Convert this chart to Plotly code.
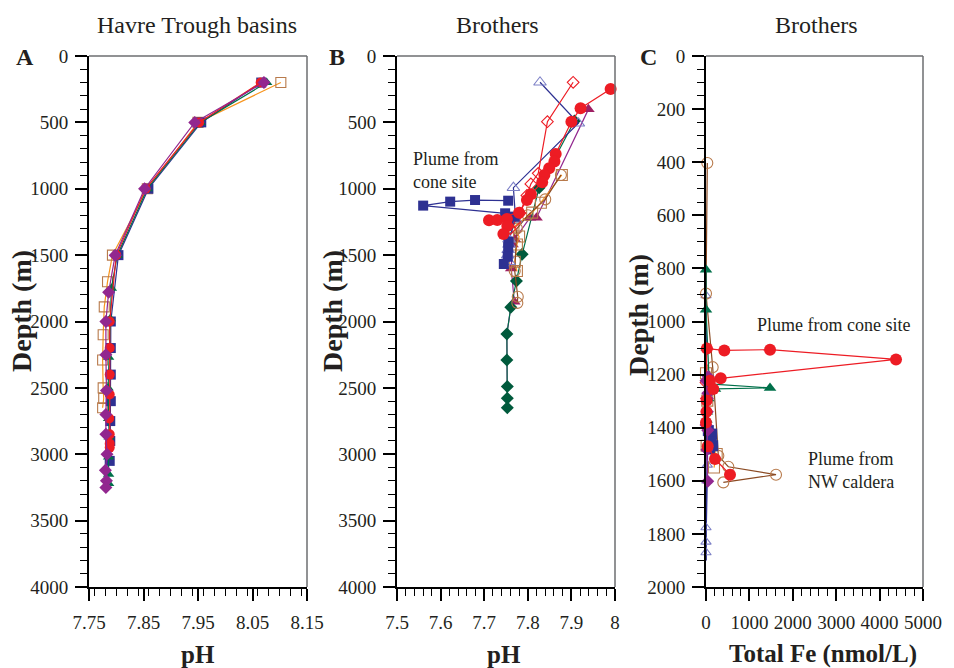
import plotly.graph_objects as go

W, H = 954, 668

# ---------------- Panel A: Havre Trough basins (pH vs depth) ----------------
A_sq_depth = [200, 500, 1000, 1500, 2000, 2200, 2400, 2600, 2750, 2900, 3050]
A_sq_ph = [8.066, 7.956, 7.859, 7.804, 7.790, 7.790, 7.790, 7.790, 7.789, 7.789, 7.788]
A_ci_depth = [200, 500, 1000, 1500, 2000, 2200, 2400, 2550, 2730, 2850, 2920, 2950]
A_ci_ph = [8.065, 7.952, 7.854, 7.800, 7.788, 7.788, 7.788, 7.788, 7.787, 7.788, 7.788, 7.788]
A_tr_depth = [200, 500, 1000, 1500, 1750, 1980, 2270, 2500, 2730, 2870, 3020, 3150, 3220]
A_tr_ph = [8.076, 7.954, 7.857, 7.802, 7.791, 7.789, 7.786, 7.785, 7.786, 7.787, 7.786, 7.786, 7.786]
A_di_depth = [200, 500, 1000, 1500, 1780, 2000, 2250, 2520, 2700, 2850, 3000, 3120, 3200, 3250]
A_di_ph = [8.071, 7.944, 7.852, 7.798, 7.786, 7.781, 7.781, 7.782, 7.781, 7.781, 7.783, 7.780, 7.782, 7.781]
A_os_depth = [200, 500, 1000, 1500, 1700, 1890, 2100, 2290, 2500, 2580, 2650]
A_os_ph = [8.102, 7.950, 7.857, 7.793, 7.784, 7.778, 7.776, 7.775, 7.776, 7.777, 7.775]

# ---------------- Panel B: Brothers (pH vs depth) ----------------
B_sq_depth = [1090, 1085, 1097, 1127, 1185, 1210, 1230, 1400, 1440, 1512, 1567]
B_sq_ph = [7.755, 7.679, 7.622, 7.560, 7.748, 7.770, 7.756, 7.756, 7.755, 7.754, 7.745]
B_ot_depth = [198, 507, 992, 1230, 1380, 1420, 1460, 1500, 1550]
B_ot_ph = [7.828, 7.916, 7.767, 7.772, 7.757, 7.757, 7.755, 7.754, 7.757]
B_ci_depth = [249, 394, 495, 738, 795, 846, 896, 951, 1042, 1084, 1180, 1238, 1235, 1228, 1281, 1341]
B_ci_ph = [7.990, 7.921, 7.900, 7.864, 7.861, 7.849, 7.838, 7.833, 7.807, 7.798, 7.780, 7.711, 7.730, 7.752, 7.753, 7.744]
B_od_depth = [198, 495, 884, 964, 1050, 1183, 1250, 1300]
B_od_ph = [7.904, 7.845, 7.824, 7.807, 7.798, 7.782, 7.770, 7.760]
B_gd_depth = [490, 992, 1494, 1695, 1893, 2094, 2290, 2490, 2578, 2650]
B_gd_ph = [7.907, 7.826, 7.787, 7.774, 7.761, 7.752, 7.752, 7.753, 7.753, 7.753]
B_mt_depth = [402, 1218, 1218, 1380, 1420, 1600, 1851, 1893, 2094, 2290, 2490, 2578, 2650]
B_mt_ph = [7.939, 7.820, 7.805, 7.770, 7.765, 7.762, 7.769, 7.761, 7.752, 7.752, 7.753, 7.753, 7.753]
B_mt_shown = [1, 1, 1, 1, 1, 1, 1, 0, 0, 0, 0, 0, 0]
B_os_depth = [896, 1105, 1180, 1290, 1360, 1420, 1550, 1620]
B_os_ph = [7.878, 7.830, 7.810, 7.767, 7.780, 7.775, 7.770, 7.775]
B_oc_depth = [896, 1080, 1200, 1300, 1620, 1813, 1860]
B_oc_ph = [7.876, 7.840, 7.800, 7.775, 7.770, 7.777, 7.776]

# ---------------- Panel C: Brothers (Total Fe vs depth) ----------------
C_ci_depth = [1102, 1109, 1106, 1143, 1214, 1223, 1254, 1298, 1340, 1380]
C_ci_fe = [20, 422, 1475, 4378, 339, 92, 168, 15, 10, 0]
C_ci2_depth = [1470, 1518, 1577]
C_ci2_fe = [40, 207, 553]
C_tr_depth = [805, 956, 1235, 1250, 1254, 1290, 1340, 1370]
C_tr_fe = [0, 0, 77, 1475, 207, 50, 20, 10]
C_sq_depth = [1411, 1424, 1440, 1455, 1468, 1480]
C_sq_fe = [54, 130, 90, 120, 154, 80]
C_ot_depth = [800, 902, 1100, 1540, 1600, 1776, 1830, 1870, 1900]
C_ot_fe = [0, 0, 0, 30, 20, 0, 0, 0, 0]
C_ot_shown = [0, 1, 1, 1, 1, 1, 1, 1, 0]
C_di_depth = [1208, 1223, 1270, 1290, 1340, 1390, 1410, 1483, 1602]
C_di_fe = [50, 0, 40, 30, 30, 0, 40, 20, 40]
C_oc_depth = [403, 895, 1172, 1506, 1547, 1577, 1606]
C_oc_fe = [30, 0, 154, 284, 514, 1613, 399]
C_os_depth = [1195, 1298, 1468, 1499, 1550]
C_os_fe = [0, 30, 15, 246, 184]
C_od_depth = [1102, 1230, 1290]
C_od_fe = [20, 0, 10]

# tick labels
A_xticks = [7.75, 7.85, 7.95, 8.05, 8.15]
A_xlabels = ["7.75", "7.85", "7.95", "8.05", "8.15"]
B_xticks = [7.5, 7.6, 7.7, 7.8, 7.9, 8.0]
B_xlabels = ["7.5", "7.6", "7.7", "7.8", "7.9", "8"]
C_xticks = [0, 1000, 2000, 3000, 4000, 5000]
C_xlabels = ["0", "1000", "2000", "3000", "4000", "5000"]
AB_yticks = [0, 500, 1000, 1500, 2000, 2500, 3000, 3500, 4000]
C_yticks = [0, 200, 400, 600, 800, 1000, 1200, 1400, 1600, 1800, 2000]

NAVY = "#2e3192"
RED = "#ed1c24"
GREEN = "#00704a"
DGREEN = "#005a3c"
PURPLE = "#92278f"
MAGENTA = "#9e1f63"
ORANGE = "#f7941d"
TAN = "#b87a4b"
LBLUE = "#7d80c6"
BROWN = "#8b4a22"

FONT = "Liberation Serif"
TXT = "#231f20"

fig = go.Figure()


def add(ax, x, y, sym, col, lcol, size=10, lw=1.2, opac=None):
    xa = "x" if ax == 1 else f"x{ax}"
    ya = "y" if ax == 1 else f"y{ax}"
    open_ = sym.endswith("open")
    marker = dict(symbol=sym, size=size, color=col,
                  line=dict(width=1.1 if open_ else 0, color=col))
    if opac is not None:
        marker["opacity"] = opac
    fig.add_trace(go.Scatter(x=x, y=y, mode="lines+markers", xaxis=xa, yaxis=ya,
                             marker=marker, line=dict(color=lcol, width=lw),
                             showlegend=False, cliponaxis=False, hoverinfo="skip"))


# Panel A
add(1, A_os_ph, A_os_depth, "square-open", TAN, ORANGE, 10)
add(1, A_sq_ph, A_sq_depth, "square", NAVY, NAVY, 10)
add(1, A_tr_ph, A_tr_depth, "triangle-up", GREEN, GREEN, 10)
add(1, A_ci_ph, A_ci_depth, "circle", RED, RED, 10)
add(1, A_di_ph, A_di_depth, "diamond", PURPLE, PURPLE, 10)

# Panel B
add(2, B_mt_ph, B_mt_depth, "triangle-up", MAGENTA, PURPLE, 11, opac=B_mt_shown)
add(2, B_gd_ph, B_gd_depth, "diamond", DGREEN, GREEN, 10)
add(2, B_os_ph, B_os_depth, "square-open", TAN, ORANGE, 11)
add(2, B_oc_ph, B_oc_depth, "circle-open", TAN, BROWN, 11)
add(2, B_ot_ph, B_ot_depth, "triangle-up-open", LBLUE, NAVY, 11)
add(2, B_od_ph, B_od_depth, "diamond-open", RED, RED, 9)
add(2, B_sq_ph, B_sq_depth, "square", NAVY, NAVY, 10)
add(2, B_ci_ph, B_ci_depth, "circle", RED, RED, 12)

# Panel C
add(3, C_ot_fe, C_ot_depth, "triangle-up-open", LBLUE, NAVY, 9, lw=1.8, opac=C_ot_shown)
add(3, C_oc_fe, C_oc_depth, "circle-open", TAN, BROWN, 11)
add(3, C_os_fe, C_os_depth, "square-open", TAN, ORANGE, 11)
add(3, C_od_fe, C_od_depth, "diamond-open", RED, RED, 9)
add(3, C_tr_fe, C_tr_depth, "triangle-up", GREEN, GREEN, 11)
add(3, C_sq_fe, C_sq_depth, "square", NAVY, NAVY, 11)
add(3, C_di_fe, C_di_depth, "diamond", PURPLE, PURPLE, 10)
add(3, C_ci_fe, C_ci_depth, "circle", RED, RED, 12)
add(3, C_ci2_fe, C_ci2_depth, "circle", RED, RED, 12)

ydom = [1 - 587 / H, 1 - 56 / H]
xdoms = [[89 / W, 307 / W], [397 / W, 615 / W], [706 / W, 923 / W]]

tickfont = dict(family=FONT, size=19, color=TXT)


def xaxis_cfg(dom, anchor, rng, tv, tt, minor):
    return dict(domain=dom, anchor=anchor, range=rng, tickvals=tv, ticktext=tt,
                automargin=False,
                showline=True, linecolor="black", linewidth=2, mirror=False,
                ticks="outside", ticklen=12, tickwidth=1.5, tickcolor="black",
                showgrid=False, zeroline=False, tickfont=tickfont, ticklabelstandoff=5,
                minor=dict(dtick=minor, ticks="outside", ticklen=7, tickwidth=1.3,
                           tickcolor="black", showgrid=False))


def yaxis_cfg(anchor, rng, tv, minor):
    return dict(domain=ydom, anchor=anchor, range=rng, tickvals=tv,
                ticktext=[str(v) for v in tv], automargin=False,
                showline=True, linecolor="black", linewidth=2, mirror=False,
                ticks="outside", ticklen=12, tickwidth=1.5, tickcolor="black",
                showgrid=False, zeroline=False, tickfont=tickfont, ticklabelstandoff=3,
                minor=dict(dtick=minor, ticks="outside", ticklen=7, tickwidth=1.3,
                           tickcolor="black", showgrid=False))


fig.update_layout(
    template="none",
    width=W, height=H, margin=dict(l=0, r=0, t=0, b=0, pad=0, autoexpand=False),
    paper_bgcolor="white", plot_bgcolor="white", showlegend=False,
    xaxis=xaxis_cfg(xdoms[0], "y", [7.75, 8.15], A_xticks, A_xlabels, 0.02),
    xaxis2=xaxis_cfg(xdoms[1], "y2", [7.5, 8.0], B_xticks, B_xlabels, 0.02),
    xaxis3=xaxis_cfg(xdoms[2], "y3", [0, 5000], C_xticks, C_xlabels, 200),
    yaxis=yaxis_cfg("x", [4000, 0], AB_yticks, 100),
    yaxis2=yaxis_cfg("x2", [4000, 0], AB_yticks, 100),
    yaxis3=yaxis_cfg("x3", [2000, 0], C_yticks, 50),
)

# thin grey top/right frame lines
shapes = []
for i in ["", "2", "3"]:
    xr = f"x{i} domain"
    yr = f"y{i} domain"
    shapes.append(dict(type="line", xref=xr, yref=yr, x0=0, x1=1, y0=1, y1=1,
                       line=dict(color="#6d6e71", width=1.5)))
    shapes.append(dict(type="line", xref=xr, yref=yr, x0=1, x1=1, y0=0, y1=1,
                       line=dict(color="#6d6e71", width=1.5)))
fig.update_layout(shapes=shapes)

ann = []


def ptext(text, px, py, size, bold=False, angle=0, xanchor="center"):
    t = f"<b>{text}</b>" if bold else text
    ann.append(dict(text=t, x=px / W, y=1 - py / H, xref="paper", yref="paper",
                    xanchor=xanchor, yanchor="middle", showarrow=False, textangle=angle,
                    font=dict(family=FONT, size=size, color=TXT)))


# panel titles
ptext("Havre Trough basins", 197, 25, 24)
ptext("Brothers", 497, 25, 24)
ptext("Brothers", 816, 25, 24)
# panel letters
ptext("A", 25, 57, 24, bold=True)
ptext("B", 337, 57, 24, bold=True)
ptext("C", 648, 57, 24, bold=True)
# axis titles
ptext("Depth (m)", 22, 311, 28, bold=True, angle=-90)
ptext("Depth (m)", 333, 311, 28, bold=True, angle=-90)
ptext("Depth (m)", 638, 315, 28, bold=True, angle=-90)
ptext("pH", 198, 654, 25, bold=True)
ptext("pH", 504, 654, 25, bold=True)
ptext("Total Fe (nmol/L)", 823, 654, 25, bold=True)

# in-plot labels (data coordinates)
ann.append(dict(text="Plume from<br>cone site", x=7.531, y=859, xref="x2", yref="y2",
                xanchor="left", yanchor="middle", align="left", showarrow=False,
                font=dict(family=FONT, size=18, color=TXT)))
ann.append(dict(text="Plume from cone site", x=1129, y=1015, xref="x3", yref="y3",
                xanchor="left", yanchor="middle", align="left", showarrow=False,
                font=dict(family=FONT, size=18, color=TXT)))
ann.append(dict(text="Plume from<br>NW caldera", x=2297, y=1562, xref="x3", yref="y3",
                xanchor="left", yanchor="middle", align="left", showarrow=False,
                font=dict(family=FONT, size=18, color=TXT)))
fig.update_layout(annotations=ann)

fig.write_html("out.html")
